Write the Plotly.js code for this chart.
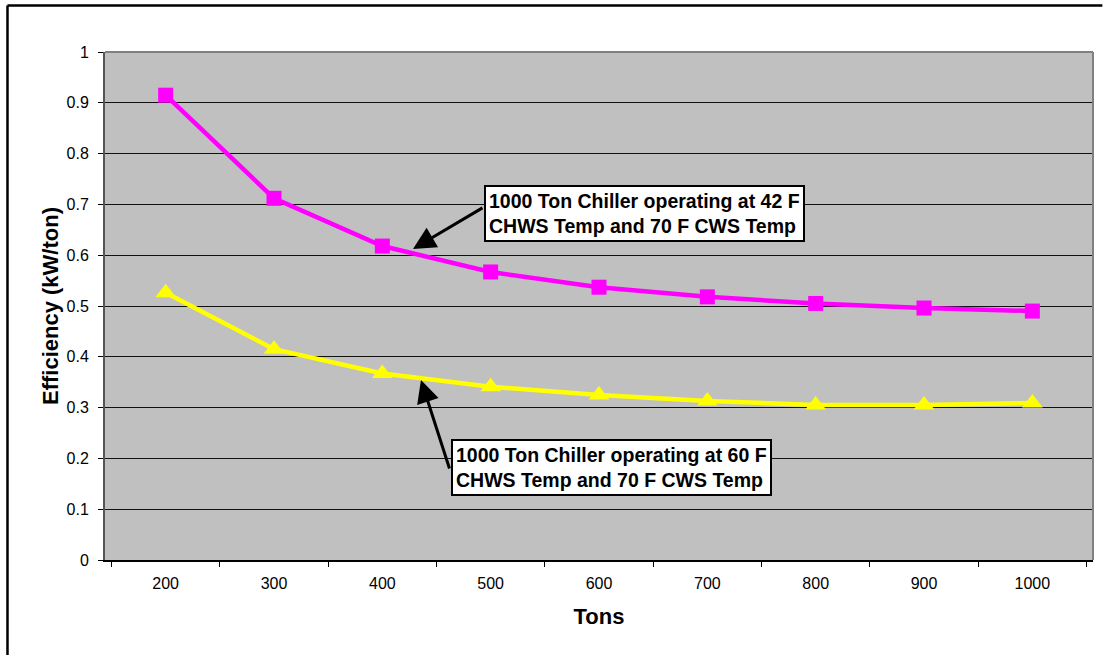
<!DOCTYPE html>
<html>
<head>
<meta charset="utf-8">
<script src="https://cdn.plot.ly/plotly-3.0.1.min.js"></script>
<style>
html,body{margin:0;padding:0;background:#fff;overflow:hidden;width:1103px;height:655px;}
#chart{width:1103px;height:655px;overflow:hidden;}
</style>
</head>
<body>
<div id="chart"></div>
<script>
// ---- data ----
const tons = ['200','300','400','500','600','700','800','900','1000'];
const eff42F = [0.915, 0.712, 0.618, 0.567, 0.537, 0.518, 0.505, 0.496, 0.490];
const eff60F = [0.526, 0.415, 0.367, 0.341, 0.325, 0.313, 0.305, 0.305, 0.309];
const yTicks = [0, 0.1, 0.2, 0.3, 0.4, 0.5, 0.6, 0.7, 0.8, 0.9, 1];
const label42 = '1000 Ton Chiller operating at 42 F<br>CHWS Temp and 70 F CWS Temp';
const label60 = '1000 Ton Chiller operating at 60 F<br>CHWS Temp and 70 F CWS Temp';

const FONT = 'Liberation Sans, Arial, sans-serif';

const traces = [
  {
    x: tons, y: eff42F, type: 'scatter', mode: 'lines+markers',
    line: {color: '#FF00FF', width: 4.5},
    marker: {symbol: 'square', size: 15, color: '#FF00FF'},
    hoverinfo: 'x+y', showlegend: false
  },
  {
    x: tons, y: eff60F, type: 'scatter', mode: 'lines+markers',
    line: {color: '#FFFF00', width: 4.5},
    marker: {symbol: 'triangle-up', size: 18, color: '#FFFF00'},
    hoverinfo: 'x+y', showlegend: false
  }
];

const layout = {
  width: 1103, height: 655,
  margin: {l: 105, r: 10, t: 52, b: 95, pad: 0},
  paper_bgcolor: '#FFFFFF',
  plot_bgcolor: '#C0C0C0',
  font: {family: FONT, color: '#000'},
  showlegend: false,
  xaxis: {
    type: 'category',
    categoryorder: 'array', categoryarray: tons,
    showgrid: false, zeroline: false,
    showline: true, linecolor: '#000', linewidth: 1.5,
    ticks: 'outside', tickson: 'boundaries', ticklen: 5, tickcolor: '#000', tickwidth: 1,
    tickfont: {family: FONT, size: 16, color: '#000'},
    ticklabelstandoff: 8,
    title: {text: 'Tons', font: {family: FONT, size: 22, color: '#000', weight: 'bold'}, standoff: 18},
    automargin: false, fixedrange: true
  },
  yaxis: {
    range: [0, 1],
    tickvals: yTicks,
    ticktext: yTicks.map(v => String(v)),
    showgrid: true, gridcolor: '#111', gridwidth: 1,
    zeroline: false,
    showline: true, linecolor: '#555', linewidth: 2,
    ticks: 'outside', ticklen: 5, tickcolor: '#000', tickwidth: 1,
    tickfont: {family: FONT, size: 16, color: '#000'},
    ticklabelstandoff: 6,
    title: {text: 'Efficiency (kW/ton)', font: {family: FONT, size: 22, color: '#000', weight: 'bold'}, standoff: 2},
    automargin: false, fixedrange: true
  },
  shapes: [
    // plot-area top and right border
    {type: 'line', xref: 'paper', yref: 'paper', x0: 0, x1: 1, y0: 1, y1: 1, line: {color: '#808080', width: 2}, layer: 'above'},
    {type: 'line', xref: 'paper', yref: 'paper', x0: 1, x1: 1, y0: 0, y1: 1, line: {color: '#808080', width: 2}, layer: 'above'},
    // chart outer frame: only the top and left sides fall inside the picture
    {type: 'line', xref: 'paper', yref: 'paper', x0: -0.0987, x1: 1.0095, y0: 1.0915, y1: 1.0915, line: {color: '#000', width: 2.5}, layer: 'above'},
    {type: 'line', xref: 'paper', yref: 'paper', x0: -0.0987, x1: -0.0987, y0: 1.0915, y1: -0.19, line: {color: '#000', width: 2.5}, layer: 'above'}
  ],
  annotations: [
    {
      xref: 'paper', yref: 'paper', x: 0.3836, y: 0.7382, xanchor: 'left', yanchor: 'top',
      text: label42, showarrow: false, align: 'left',
      font: {family: FONT, size: 19.5, color: '#000', weight: 'bold'},
      bgcolor: '#FFFFFF', bordercolor: '#000', borderwidth: 2, borderpad: 3
    },
    {
      xref: 'paper', yref: 'paper', x: 0.3502, y: 0.2382, xanchor: 'left', yanchor: 'top',
      text: label60, showarrow: false, align: 'left',
      font: {family: FONT, size: 19.5, color: '#000', weight: 'bold'},
      bgcolor: '#FFFFFF', bordercolor: '#000', borderwidth: 2, borderpad: 3
    },
    {
      xref: 'paper', yref: 'paper', x: 0.3117, y: 0.6122, text: '',
      showarrow: true, axref: 'pixel', ayref: 'pixel', ax: 71, ay: -42,
      arrowhead: 2, arrowsize: 1.5, arrowwidth: 3, arrowcolor: '#000', standoff: 0, startstandoff: 0
    },
    {
      xref: 'paper', yref: 'paper', x: 0.3198, y: 0.3543, text: '',
      showarrow: true, axref: 'pixel', ayref: 'pixel', ax: 29, ay: 90,
      arrowhead: 2, arrowsize: 1.5, arrowwidth: 3, arrowcolor: '#000', standoff: 0, startstandoff: 0
    }
  ]
};

Plotly.newPlot('chart', traces, layout, {displayModeBar: false, staticPlot: true});
</script>
</body>
</html>
